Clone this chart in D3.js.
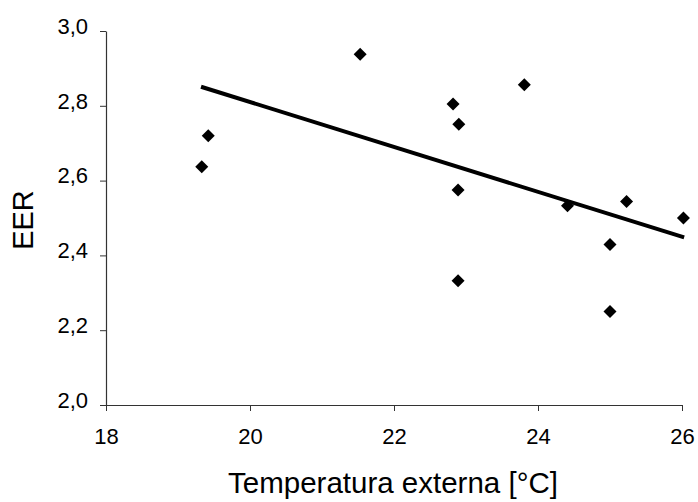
<!DOCTYPE html>
<html><head><meta charset="utf-8">
<script src="https://cdn.jsdelivr.net/npm/d3@7"></script>
<style>body{margin:0;background:#fff}svg{display:block}</style>
</head><body>
<script>
const temps = [19.33, 19.42, 21.53, 22.82, 22.9, 22.89, 22.89, 23.81, 24.41, 25.0, 25.0, 25.23, 26.02];
const eer   = [2.637, 2.72, 2.938, 2.805, 2.751, 2.575, 2.332, 2.856, 2.533, 2.429, 2.25, 2.544, 2.5];
const trendX = [19.32, 26.03];
const trendY = [2.851, 2.448];
const xTicks = [18, 20, 22, 24, 26];
const yTicks = [2.0, 2.2, 2.4, 2.6, 2.8, 3.0];
const xTitle = "Temperatura externa [°C]";
const yTitle = "EER";

const W = 698, H = 502;
const svg = d3.select("body").append("svg").attr("width", W).attr("height", H);
const x = d3.scaleLinear().domain([18, 26]).range([106, 682]);
const y = d3.scaleLinear().domain([2.0, 3.0]).range([405, 31]);
const font = "Liberation Sans, Arial, sans-serif";

const fmt = d => d3.format(".1f")(d).replace(".", ",");

const xa = svg.append("g").attr("transform", `translate(0,${y(2.0)})`)
  .call(d3.axisBottom(x).tickValues(xTicks).tickSize(6).tickPadding(17).tickSizeOuter(0));
xa.select(".domain").attr("stroke", "#333").attr("stroke-width", 1.2);
xa.selectAll(".tick line").attr("stroke", "#333");
xa.selectAll("text").attr("font-family", font).attr("font-size", 22).attr("fill", "#000");

const ya = svg.append("g").attr("transform", `translate(${x(18)},0)`)
  .call(d3.axisLeft(y).tickValues(yTicks).tickFormat(fmt).tickSize(6).tickPadding(12).tickSizeOuter(0));
ya.select(".domain").attr("stroke", "#333").attr("stroke-width", 1.2);
ya.selectAll(".tick line").attr("stroke", "#333");
ya.selectAll("text").attr("font-family", font).attr("font-size", 22).attr("fill", "#000").attr("dy", "0.1em");

// trend line
svg.append("path")
  .datum(d3.zip(trendX, trendY))
  .attr("d", d3.line().x(d => x(d[0])).y(d => y(d[1])))
  .attr("stroke", "#000").attr("stroke-width", 4).attr("fill", "none");

// diamonds
const r = 6.5;
svg.append("g").selectAll("path").data(d3.zip(temps, eer)).join("path")
  .attr("d", d => {
    const cx = x(d[0]), cy = y(d[1]);
    return `M${cx},${cy - r}L${cx + r},${cy}L${cx},${cy + r}L${cx - r},${cy}Z`;
  })
  .attr("fill", "#000");

svg.append("text").attr("x", 393).attr("y", 493).attr("text-anchor", "middle")
  .attr("font-family", font).attr("font-size", 29.5).attr("fill", "#000").text(xTitle);
svg.append("text").attr("transform", "translate(33,220) rotate(-90)").attr("text-anchor", "middle")
  .attr("font-family", font).attr("font-size", 29).attr("fill", "#000").text(yTitle);
</script>
</body></html>
